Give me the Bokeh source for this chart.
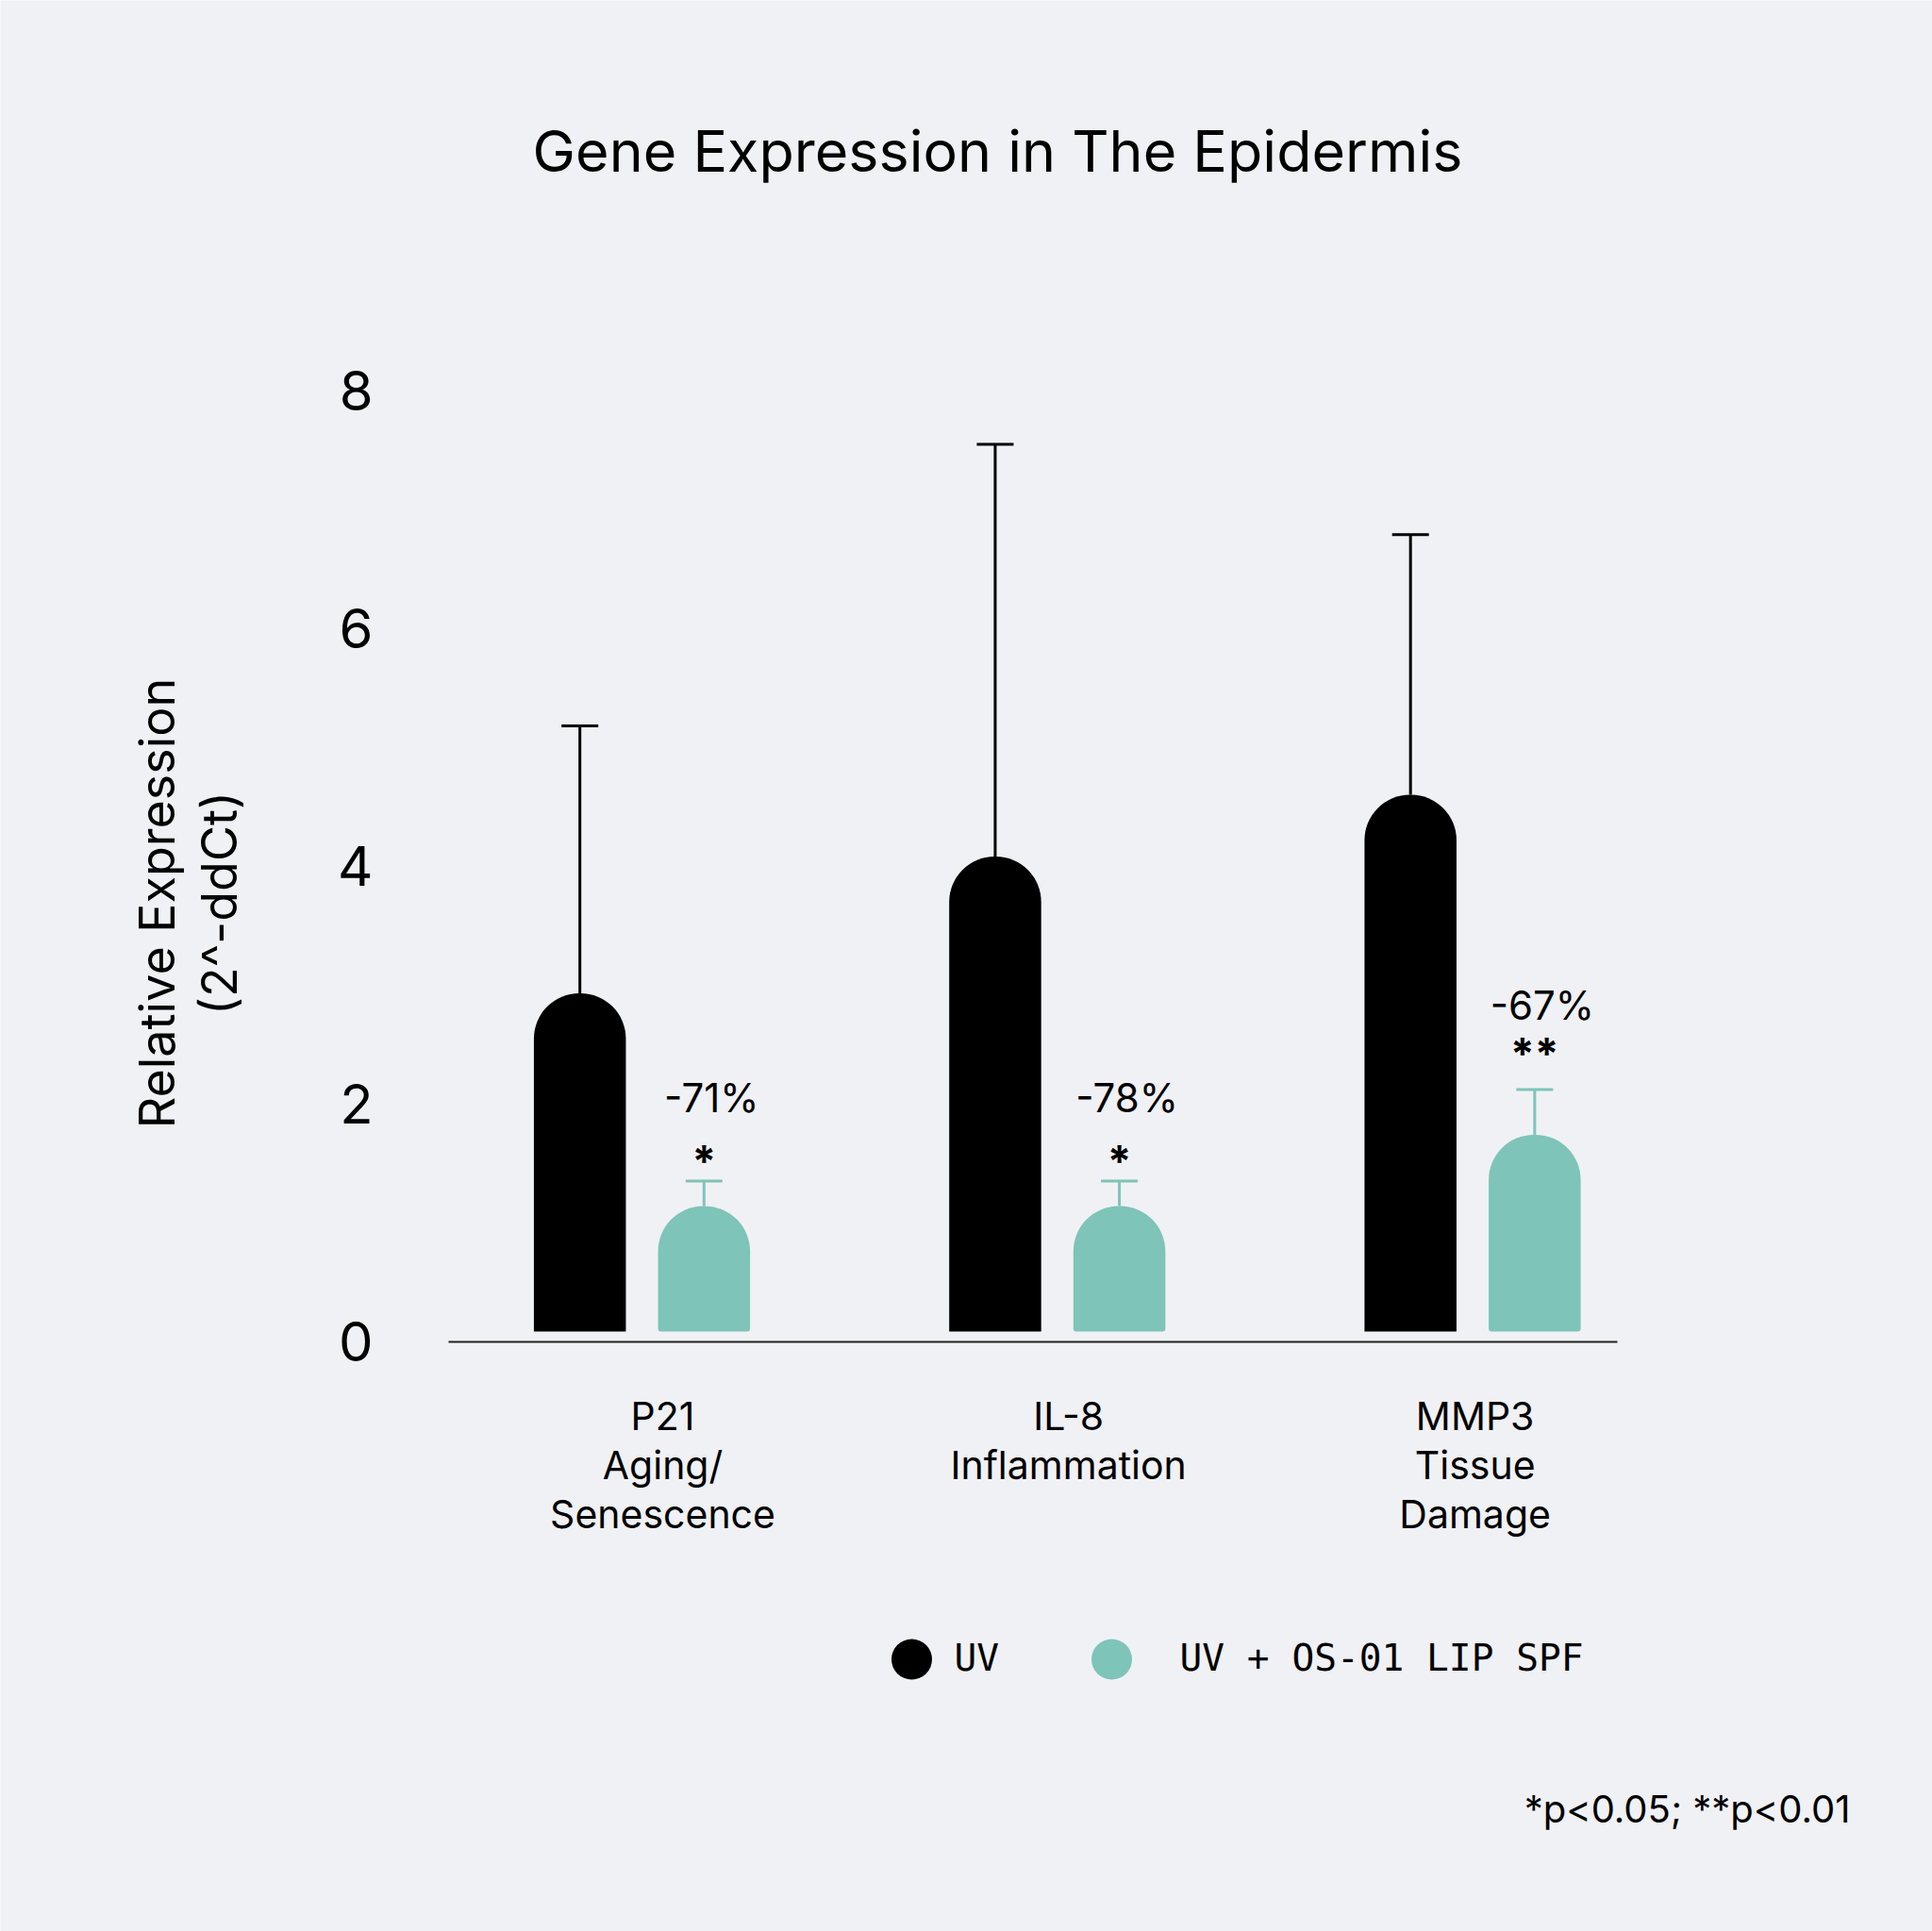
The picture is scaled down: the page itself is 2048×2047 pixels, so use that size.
import math
from bokeh.plotting import figure
from bokeh.models import (ColumnDataSource, Range1d, FixedTicker, Whisker, TeeHead, Label)
from bokeh.core.properties import value
from bokeh.embed import file_html
from bokeh.resources import INLINE

# ---------------- data ----------------
genes = ["P21", "IL-8", "MMP3"]
gene_labels = ["P21\nAging/\nSenescence", "IL-8\nInflammation", "MMP3\nTissue\nDamage"]
uv = [2.93, 4.08, 4.60]
uv_upper = [5.18, 7.55, 6.79]
treated = [1.14, 1.14, 1.74]
treated_upper = [1.35, 1.35, 2.12]
reduction = ["-71%", "-78%", "-67%"]
signif = ["*", "*", "**"]
series_names = ["UV", "UV + OS-01 LIP SPF"]
footnote = "*p<0.05; **p<0.01"
title_text = "Gene Expression in The Epidermis"
ylabel_lines = ["Relative Expression", "(2^-ddCt)"]
y_ticks = [0, 2, 4, 6, 8]

# ---------------- style / layout ----------------
BG = "#f0f1f5"
BLACK = "#000000"
TEAL = "#7ec4b8"
FONT = "Inter"
MONO = "DejaVu Sans Mono"
W, H = 2048, 2047
OFFSET = 0.1495      # half distance between the two bars of a group
BAR_W = 0.2215
BAR_BASE = 0.085
AXIS_BOUNDS = (-0.4656, 2.3487)
PCT_LIFT = 0.707
star_lift = [0.17, 0.17, 0.30]
label_nudge = [0.05, 0.027, 0.006]

idx = list(range(len(genes)))
x_uv = [i - OFFSET for i in idx]
x_tr = [i + OFFSET for i in idx]
tick_pos = [i + n for i, n in zip(idx, label_nudge)]

p = figure(width=W, height=H, output_backend="svg", toolbar_location=None,
           x_range=Range1d(-1.5446, 3.1073), y_range=Range1d(-4.9627, 11.2833),
           min_border=0)
p.background_fill_color = BG
p.border_fill_color = BG
p.outline_line_color = None
p.grid.visible = False

# bars
src_uv = ColumnDataSource(dict(x=x_uv, top=uv, upper=uv_upper))
src_tr = ColumnDataSource(dict(x=x_tr, top=treated, upper=treated_upper,
                               pct=reduction, star=signif,
                               pct_y=[u + PCT_LIFT for u in treated_upper],
                               star_y=[u + s for u, s in zip(treated_upper, star_lift)]))

p.vbar(x="x", top="top", bottom=BAR_BASE, width=BAR_W, source=src_uv,
       fill_color=BLACK, line_color=None, border_radius=(48, 48, 0, 0))
p.vbar(x="x", top="top", bottom=BAR_BASE, width=BAR_W, source=src_tr,
       fill_color=TEAL, line_color=None, border_radius=(48, 48, 3, 3))

# error bars
p.add_layout(Whisker(base="x", lower="top", upper="upper", source=src_uv,
                     line_color=BLACK, line_width=3,
                     upper_head=TeeHead(size=39, line_color=BLACK, line_width=3),
                     lower_head=None))
p.add_layout(Whisker(base="x", lower="top", upper="upper", source=src_tr,
                     line_color=TEAL, line_width=3,
                     upper_head=TeeHead(size=39, line_color=TEAL, line_width=3),
                     lower_head=None))

# annotations above treated bars
p.text(x="x", y="pct_y", text="pct", source=src_tr, x_offset=8,
       text_font=value(FONT), text_font_size="42px", text_color=BLACK,
       text_align="center", text_baseline="alphabetic")
p.text(x="x", y="star_y", text="star", source=src_tr,
       text_font=value(FONT), text_font_size="46px", text_font_style="bold",
       text_color=BLACK, text_align="center", text_baseline="alphabetic")

# axes (drawn at fixed data positions inside the full-canvas frame)
xa = p.xaxis[0]
xa.fixed_location = 0
xa.bounds = AXIS_BOUNDS
xa.ticker = FixedTicker(ticks=tick_pos)
xa.major_label_overrides = {t: lab for t, lab in zip(tick_pos, gene_labels)}
xa.axis_line_color = "#222222"
xa.axis_line_width = 2
xa.major_tick_line_color = None
xa.minor_tick_line_color = None
xa.major_tick_out = 0
xa.major_tick_in = 0
xa.major_label_standoff = 54
xa.major_label_text_font = FONT
xa.major_label_text_font_size = "41px"
xa.major_label_text_color = BLACK
xa.major_label_text_line_height = 1.04

ya = p.yaxis[0]
ya.fixed_location = AXIS_BOUNDS[0]
ya.ticker = FixedTicker(ticks=y_ticks)
ya.axis_line_color = None
ya.major_tick_line_color = None
ya.minor_tick_line_color = None
ya.major_tick_out = 0
ya.major_tick_in = 0
ya.major_label_standoff = 80
ya.major_label_text_font = FONT
ya.major_label_text_font_size = "58px"
ya.major_label_text_color = BLACK

# legend (drawn manually)
leg_y = -2.673
p.scatter(x=[0.6496, 1.1312], y=[leg_y, leg_y], size=43,
          fill_color=[BLACK, TEAL], line_color=None, marker="circle")
p.text(x=[0.7518, 1.2947], y=[-2.655, -2.655], text=series_names,
       text_font=value(MONO), text_font_size="39.5px", text_color=BLACK,
       text_align="left", text_baseline="alphabetic")

# title, y label, footnote
p.add_layout(Label(x=0.8563, y=10.02, text=title_text, text_font=FONT,
                   text_font_size="61px", text_color=BLACK,
                   text_align="center", text_baseline="alphabetic"))
for xl, line in zip([-1.1665, -1.0172], ylabel_lines):
    p.add_layout(Label(x=xl, y=3.688, text=line, angle=math.pi / 2,
                       text_font=FONT, text_font_size="52px", text_color=BLACK,
                       text_align="center", text_baseline="alphabetic"))
p.add_layout(Label(x=2.9097, y=-3.929, text=footnote, text_font=FONT,
                   text_font_size="40px", text_color=BLACK,
                   text_align="right", text_baseline="alphabetic"))

open("out.html", "w").write(file_html(p, INLINE))
